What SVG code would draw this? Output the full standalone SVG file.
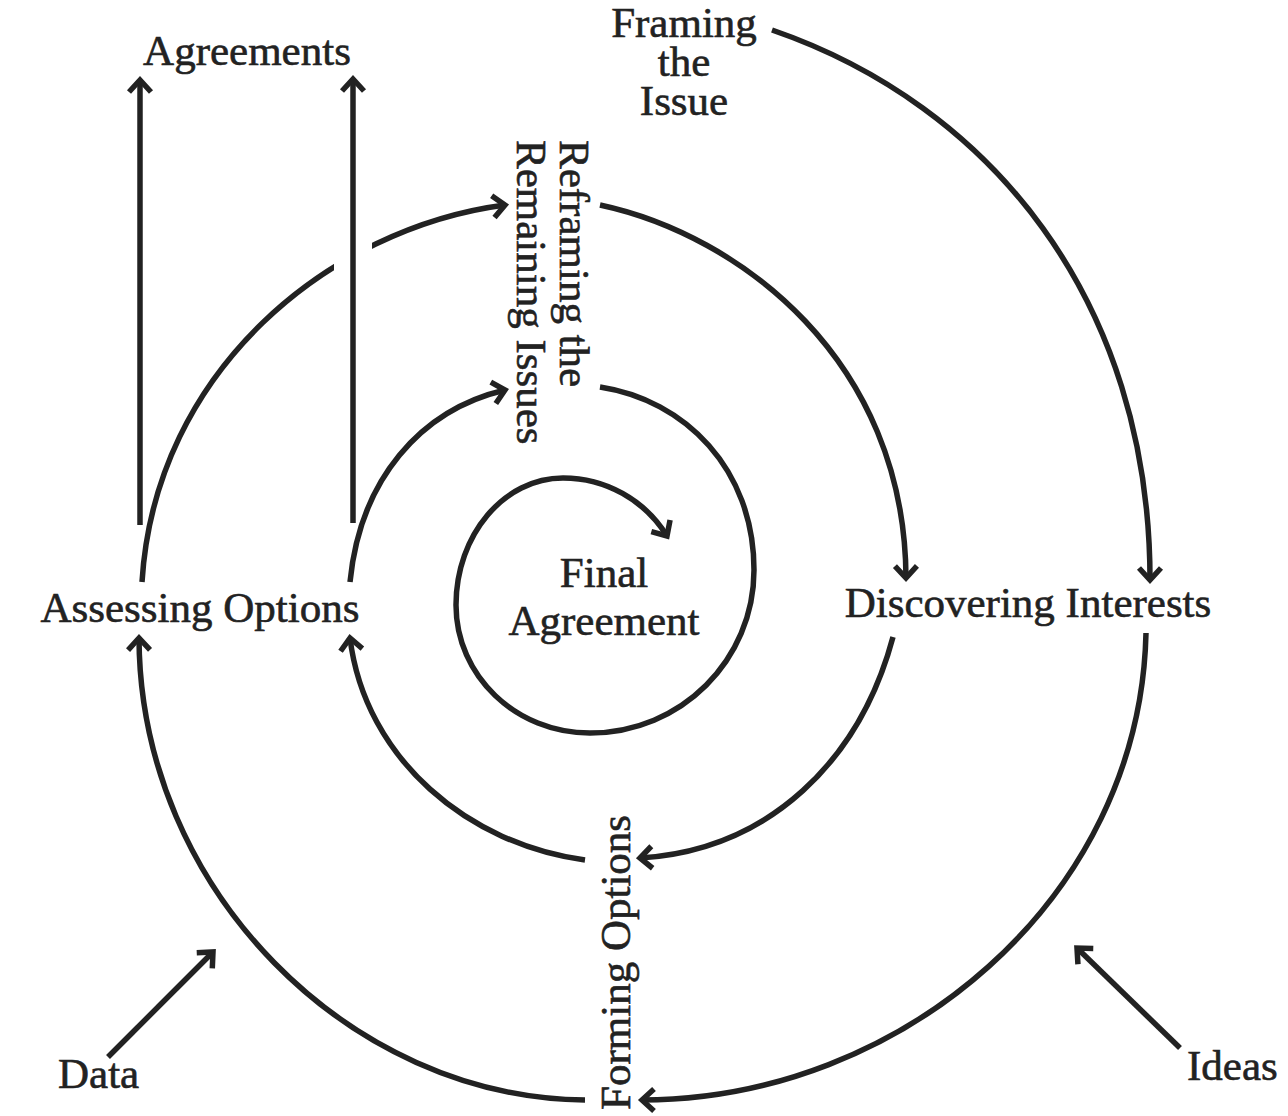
<svg xmlns="http://www.w3.org/2000/svg" width="1288" height="1116" viewBox="0 0 1288 1116">
<defs>
<marker id="ah" markerUnits="userSpaceOnUse" markerWidth="34" markerHeight="34" viewBox="-17 -17 34 34" refX="0" refY="0" orient="auto">
<path d="M-12,-11 L0,0 L-12,11" fill="none" stroke="#222" stroke-width="5.5" stroke-linejoin="miter" stroke-linecap="butt"/>
</marker>
</defs>
<style>
.c{fill:none;stroke:#222;stroke-width:5.5;stroke-linecap:butt}
.a{marker-end:url(#ah)}
.t{font-family:"Liberation Serif","Times New Roman",serif;font-size:43px;fill:#222;stroke:#222;stroke-width:0.6}
.m{text-anchor:middle}
</style>
<rect width="1288" height="1116" fill="#fff"/>
<g id="connectors">
<path class="c a" d="M772,30 C990,105 1150,300 1150,580"/>
<path class="c a" d="M1146,633 C1140,900 900,1100 642,1100"/>
<path class="c a" d="M585,1100 C350,1098 140,890 139,638"/>
<path class="c a" d="M142,582 C155,370 330,228 505,205"/>
<rect x="334" y="232" width="38" height="50" fill="#fff"/>
<path class="c a" d="M600,205 C740,235 905,360 906,578"/>
<path class="c a" d="M893,637 C860,760 770,850 640,858"/>
<path class="c a" d="M585,860 C470,845 365,760 350,638"/>
<path class="c a" d="M350,582 C360,480 420,410 505,390"/>
<path class="c a" d="M600,387 C685,400 754,469 754,570 C754,660 681,733 590,733 C516,733 456,676 456,605 C456,535 504,478 563,478 A122,122 0 0 1 667,536"/>
<path class="c a" d="M140,525 L140,80"/>
<path class="c a" d="M353,523 L353,79"/>
<path class="c a" d="M108,1057 L213,952"/>
<path class="c a" d="M1180,1048 L1077,948"/>
</g>
<g id="framing"><text class="t m" x="684" y="37">Framing</text><text class="t m" x="684" y="76">the</text><text class="t m" x="684" y="115">Issue</text></g>
<g id="agreements"><text class="t m" x="247" y="65">Agreements</text></g>
<g id="reframing"><text class="t" transform="translate(560,140) rotate(90)">Reframing the<tspan x="0" y="43">Remaining Issues</tspan></text></g>
<g id="assessing"><text class="t m" x="200" y="622">Assessing Options</text></g>
<g id="discovering"><text class="t m" x="1028" y="617">Discovering Interests</text></g>
<g id="final"><text class="t m" x="604" y="587">Final</text><text class="t m" x="604" y="635">Agreement</text></g>
<g id="forming"><text class="t" transform="translate(630,1110) rotate(-90)">Forming Options</text></g>
<g id="data"><text class="t" x="58" y="1088">Data</text></g>
<g id="ideas"><text class="t" x="1187" y="1080">Ideas</text></g>
</svg>
